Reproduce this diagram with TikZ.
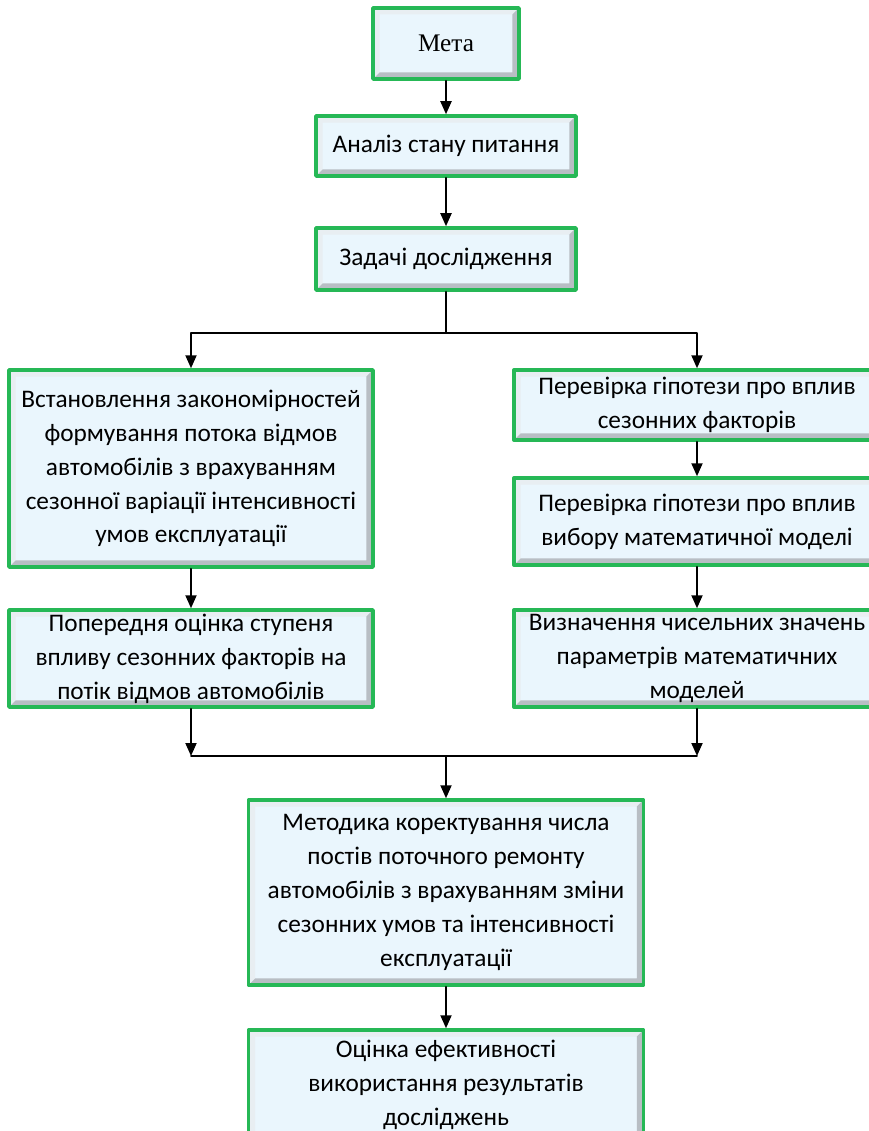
\documentclass[tikz,border=0pt]{standalone}
\usepackage{fontspec}
\setmainfont{Carlito}
\newfontfamily\timesfont{Liberation Serif}
\usetikzlibrary{arrows.meta}
\definecolor{ramka}{RGB}{38,184,86}
\definecolor{zalyvka}{RGB}{234,246,253}
\definecolor{tinj}{RGB}{184,190,196}
\definecolor{svitlo}{RGB}{232,238,242}
\tikzset{
  blok/.style={draw=ramka,line width=2pt,fill=zalyvka,align=center,inner sep=0pt,
    font=\fontsize{14.4}{19.3}\selectfont,
    path picture={
      \fill[svitlo] (path picture bounding box.south west) -- (path picture bounding box.north west)
        -- (path picture bounding box.north east) -- ([xshift=-1.3mm,yshift=-1.3mm]path picture bounding box.north east)
        -- ([xshift=1.3mm,yshift=-1.3mm]path picture bounding box.north west) -- ([xshift=1.3mm,yshift=1.3mm]path picture bounding box.south west) -- cycle;
      \fill[tinj] (path picture bounding box.south west) -- (path picture bounding box.south east)
        -- (path picture bounding box.north east) -- ([xshift=-1.3mm,yshift=-1.3mm]path picture bounding box.north east)
        -- ([xshift=-1.3mm,yshift=1.3mm]path picture bounding box.south east) -- ([xshift=1.3mm,yshift=1.3mm]path picture bounding box.south west) -- cycle;
    }},
  strilka/.style={-{Triangle[length=2.6mm,width=2.2mm]},line width=1.1pt},
  liniya/.style={line width=1.1pt}
}
\begin{document}
\begin{tikzpicture}[x=0.02cm,y=-0.02cm,line cap=round,line join=round]
  \useasboundingbox (0,0) rectangle (868,1131);
  % блоки
  \node[blok,minimum width=2.92cm,minimum height=1.42cm,font=\timesfont\fontsize{14.4}{16}\selectfont] (meta) at (446,43.5) {Мета};
  \node[blok,minimum width=5.2cm,minimum height=1.2cm] (analiz) at (446,146) {Аналіз стану питання};
  \node[blok,minimum width=5.2cm,minimum height=1.24cm] (zadachi) at (446,259) {Задачі дослідження};
  \node[blok,minimum width=7.28cm,minimum height=3.94cm] (vstan) at (191,468.5)
    {Встановлення закономірностей\\формування потока відмов\\автомобілів з врахуванням\\сезонної варіації інтенсивності\\умов експлуатації};
  \node[blok,minimum width=7.28cm,minimum height=1.94cm] (poper) at (191,658.5)
    {Попередня оцінка ступеня\\впливу сезонних факторів на\\потік відмов автомобілів};
  \node[blok,minimum width=7.32cm,minimum height=1.4cm] (hipot1) at (697,405)
    {Перевірка гіпотези про вплив\\сезонних факторів};
  \node[blok,minimum width=7.32cm,minimum height=1.74cm] (hipot2) at (697,521.5)
    {Перевірка гіпотези про вплив\\вибору математичної моделі};
  \node[blok,minimum width=7.32cm,minimum height=1.94cm] (param) at (697,658.5)
    {Визначення чисельних значень\\параметрів математичних\\моделей};
  \node[blok,minimum width=7.9cm,minimum height=3.7cm] (metod) at (446,892.5)
    {Методика коректування числа\\постів поточного ремонту\\автомобілів з врахуванням зміни\\сезонних умов та інтенсивності\\експлуатації};
  \node[blok,minimum width=7.9cm,minimum height=2.2cm] (ocinka) at (446,1085)
    {Оцінка ефективності\\використання результатів\\досліджень};
  % зв'язки
  \coordinate (rozgal) at (446,333);
  \coordinate (zlyv) at (446,756);
  \draw[strilka] (meta) -- (analiz);
  \draw[strilka] (analiz) -- (zadachi);
  \draw[liniya] (zadachi) -- (rozgal);
  \draw[strilka] (rozgal) -| (vstan.north);
  \draw[strilka] (rozgal) -| (hipot1.north);
  \draw[strilka] (vstan) -- (poper);
  \draw[strilka] (hipot1) -- (hipot2);
  \draw[strilka] (hipot2) -- (param);
  \draw[strilka] (poper.south) -- (poper.south |- zlyv);
  \draw[strilka] (param.south) -- (param.south |- zlyv);
  \draw[liniya] (poper.south |- zlyv) -- (param.south |- zlyv);
  \draw[strilka] (zlyv) -- (metod);
  \draw[strilka] (metod) -- (ocinka);
\end{tikzpicture}
\end{document}
